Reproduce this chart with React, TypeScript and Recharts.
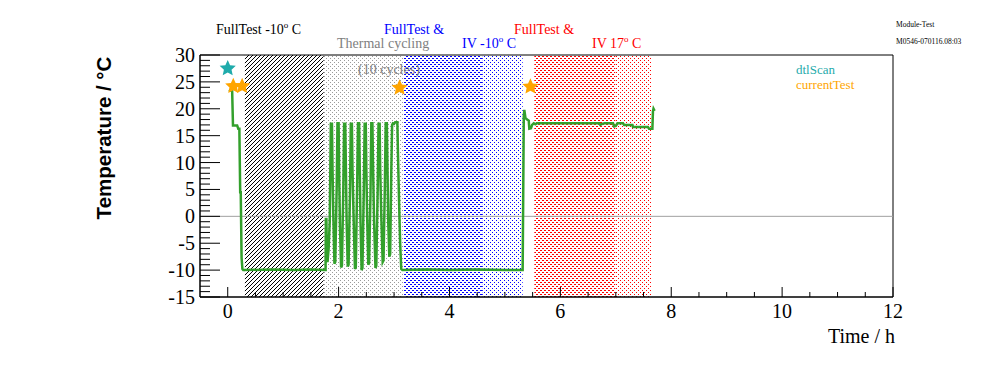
import React from 'react';
import { ComposedChart, Line, Scatter, XAxis, YAxis, ReferenceArea, ReferenceLine } from 'recharts';

// Temperature trace (time in hours, temperature in °C)
const traceHours = [
  0.02, 0.08, 0.095, 0.17, 0.19, 0.21, 0.225, 0.235, 0.25, 0.265, 0.28, 0.8, 1.2, 1.5, 1.74,
  1.765, 1.77, 1.78, 1.79, 1.80, 1.82, 1.84,
  1.86, 1.88, 1.89, 1.905, 1.925, 1.94,
  1.965, 1.98, 2.00, 2.01, 2.025, 2.045, 2.06,
  2.085, 2.10, 2.12, 2.13, 2.145, 2.165, 2.18,
  2.205, 2.22, 2.24, 2.25, 2.27, 2.295, 2.31,
  2.335, 2.35, 2.37, 2.38, 2.395, 2.415, 2.43,
  2.455, 2.47, 2.49, 2.50, 2.515, 2.535, 2.55,
  2.575, 2.59, 2.61, 2.62, 2.64, 2.665, 2.68,
  2.705, 2.72, 2.74, 2.75, 2.77, 2.795, 2.81,
  2.835, 2.85, 2.87, 2.88, 2.895, 2.915, 2.93,
  2.95, 2.965, 2.98, 3.00, 3.02, 3.06, 3.07, 3.09, 3.11, 3.13, 3.15,
  3.6, 4.0, 4.5, 5.0, 5.32, 5.33, 5.34, 5.35, 5.37, 5.40, 5.43, 5.44, 5.47, 5.49, 5.52, 5.55, 5.58,
  6.0, 6.5, 6.7, 6.72, 6.75, 6.8, 6.95, 6.97, 7.0, 7.03, 7.13, 7.15, 7.30, 7.31, 7.58, 7.60, 7.66,
  7.67, 7.68, 7.70,
];
const traceTemps = [
  23.5, 23.3, 16.9, 16.9, 16.3, 16.3, 4.5, 4.5, -7.7, -9.8, -10, -9.9, -10, -9.9, -10,
  -10, -0.5, -0.5, -7.5, -8.5, -6, -1,
  17.2, 17.2, 9, 0, -8.8, -8.5,
  5, 17.3, 17.3, 8, -2, -9.5, -9.2,
  5, 17.2, 17.2, 10, -1, -9.3, -9,
  4, 17.2, 17.2, 9, 0, -9.8, -9.5,
  6, 17.3, 17.3, 10, -1, -10, -9.6,
  5, 17.2, 17.2, 9, 0, -9, -8.7,
  4, 17.3, 17.3, 10, -1, -9.6, -9.2,
  5, 17.2, 17.2, 9, 0, -8.5, -8.2,
  6, 17.3, 17.3, 10, -1, -7.5, -7,
  8, 17, 17.3, 17.2, 17.5, 17.5, 12, 3, -5, -9.8, -10,
  -9.9, -10, -9.9, -10, -10, 4, 18.5, 19.8, 18.3, 18, 17.8, 16.3, 16.4, 17, 17.3, 17.1, 17.3,
  17.3, 17.3, 17.3, 17, 17.2, 17.3, 17.3, 16.7, 16.8, 17.3, 17.3, 17, 17, 16.6, 16.6, 16.3, 16.3,
  19.5, 20, 19.6,
];

// Markers
const dtlScanHours = [0.0];
const dtlScanTemps = [27.5];
const currentTestHours = [0.1, 0.26, 3.1, 5.46];
const currentTestTemps = [24.2, 24.2, 23.9, 24.1];

// Test phases (shaded bands)
const phaseStarts = [0.31, 1.73, 3.18, 4.59, 5.53, 6.99];
const phaseEnds = [1.73, 3.17, 4.59, 5.32, 6.99, 7.64];
const phasePatterns = ['hatchBlack', 'dotsGrey', 'hatchBlue', 'dotsBlue', 'hatchRed', 'dotsRed'];

// Axis ticks
const xMajorTicks = [0, 2, 4, 6, 8, 10, 12];
const xAllTicks = [0, 0.5, 1, 1.5, 2, 2.5, 3, 3.5, 4, 4.5, 5, 5.5, 6, 6.5, 7, 7.5, 8, 8.5, 9, 9.5, 10, 10.5, 11, 11.5, 12];
const yMajorTicks = [-15, -10, -5, 0, 5, 10, 15, 20, 25, 30];
const yAllTicks = [-15, -14, -13, -12, -11, -10, -9, -8, -7, -6, -5, -4, -3, -2, -1, 0, 1, 2, 3, 4, 5, 6, 7, 8, 9, 10, 11, 12, 13, 14, 15, 16, 17, 18, 19, 20, 21, 22, 23, 24, 25, 26, 27, 28, 29, 30];

const traceData = traceHours.map((h, i) => ({ h, T: traceTemps[i] }));
const dtlData = dtlScanHours.map((h, i) => ({ h, T: dtlScanTemps[i] }));
const currentData = currentTestHours.map((h, i) => ({ h, T: currentTestTemps[i] }));

const SERIF = '"Liberation Serif", "Times New Roman", serif';
const SANS = '"Liberation Sans", Arial, sans-serif';

const XTick = (props: any) => {
  const { x, y, payload } = props;
  const v = payload.value;
  const major = xMajorTicks.includes(v);
  return (
    <g>
      <line x1={x} x2={x} y1={y} y2={y - (major ? 10 : 5)} stroke="#000" strokeWidth={1} />
      {major && (
        <text x={x} y={y + 21} textAnchor="middle" fontFamily={SERIF} fontSize={20} fill="#000">
          {v}
        </text>
      )}
    </g>
  );
};

const YTick = (props: any) => {
  const { x, y, payload } = props;
  const v = payload.value;
  const major = yMajorTicks.includes(v);
  return (
    <g>
      <line x1={x} x2={x + (major ? 20 : 10)} y1={y} y2={y} stroke="#000" strokeWidth={1} />
      {major && (
        <text x={x - 5} y={y + 7} textAnchor="end" fontFamily={SERIF} fontSize={20} fill="#000">
          {v}
        </text>
      )}
    </g>
  );
};

const starPoints = (cx: number, cy: number, R: number, r: number) => {
  const pts: string[] = [];
  for (let i = 0; i < 10; i++) {
    const ang = -Math.PI / 2 + (i * Math.PI) / 5;
    const rad = i % 2 === 0 ? R : r;
    pts.push(`${cx + rad * Math.cos(ang)},${cy + rad * Math.sin(ang)}`);
  }
  return pts.join(' ');
};

const makeStar = (color: string) => (props: any) => {
  const { cx, cy } = props;
  if (cx == null || cy == null) return <g />;
  return <polygon points={starPoints(cx, cy, 8.5, 4)} fill={color} />;
};

const Deg = ({ children }: { children: React.ReactNode }) => (
  <>
    <tspan dy={-6} fontSize={9}>o</tspan>
    <tspan dy={6}>{children}</tspan>
  </>
);

const pixelHatch = (id: string, color: string) => (
  <pattern id={id} width="4" height="4" patternUnits="userSpaceOnUse">
    <rect x="3" y="0" width="1" height="1" fill={color} />
    <rect x="2" y="1" width="1" height="1" fill={color} />
    <rect x="1" y="2" width="1" height="1" fill={color} />
    <rect x="0" y="3" width="1" height="1" fill={color} />
  </pattern>
);
const dashHatch = (id: string, color: string) => (
  <pattern id={id} width="4" height="4" patternUnits="userSpaceOnUse">
    <rect x="2" y="0" width="2" height="1" fill={color} />
    <rect x="0" y="2" width="2" height="1" fill={color} />
  </pattern>
);
const dots = (id: string, color: string) => (
  <pattern id={id} width="4" height="4" patternUnits="userSpaceOnUse">
    <rect x="0" y="0" width="1" height="1" fill={color} />
    <rect x="2" y="2" width="1" height="1" fill={color} />
  </pattern>
);

export default function App() {
  return (
    <div style={{ position: 'absolute', left: 0, top: 0, width: 996, height: 372, background: '#fff' }}>
      <svg width={0} height={0} style={{ position: 'absolute' }}>
        <defs>
          {pixelHatch('hatchBlack', '#000000')}
          {dots('dotsGrey', '#9a9a9a')}
          {dashHatch('hatchBlue', '#0000ff')}
          {dots('dotsBlue', '#0000ff')}
          {dashHatch('hatchRed', '#ff0000')}
          {dots('dotsRed', '#ff0000')}
        </defs>
      </svg>
      <ComposedChart
        width={996}
        height={372}
        margin={{ top: 55, right: 103, bottom: 45, left: 140 }}
      >
        <XAxis
          type="number"
          dataKey="h"
          domain={[-0.5, 12]}
          allowDataOverflow
          ticks={xAllTicks}
          interval={0}
          tick={<XTick />}
          tickLine={false}
          tickSize={0}
          tickMargin={0}
          height={30}
          axisLine={{ stroke: '#000' }}
        />
        <YAxis
          type="number"
          dataKey="T"
          domain={[-15, 30]}
          allowDataOverflow
          ticks={yAllTicks}
          interval={0}
          tick={<YTick />}
          tickLine={false}
          tickSize={0}
          tickMargin={0}
          width={60}
          axisLine={{ stroke: '#000' }}
        />
        {phaseStarts.map((s, i) => (
          <ReferenceArea
            key={i}
            x1={s}
            x2={phaseEnds[i]}
            y1={-15}
            y2={30}
            fill={`url(#${phasePatterns[i]})`}
            fillOpacity={1}
            stroke="none"
            ifOverflow="visible"
          />
        ))}
        <ReferenceLine y={0} stroke="#a0a0a0" strokeWidth={1} ifOverflow="visible" />
        <Line
          data={traceData}
          dataKey="T"
          type="linear"
          stroke="#33a02c"
          strokeWidth={2.5}
          dot={false}
          activeDot={false}
          isAnimationActive={false}
        />
        <Scatter data={dtlData} dataKey="T" shape={makeStar('#1fabab')} isAnimationActive={false} />
        <Scatter data={currentData} dataKey="T" shape={makeStar('#ffa500')} isAnimationActive={false} />
        <ReferenceArea x1={-0.5} x2={12} y1={-15} y2={30} fill="none" stroke="#000" strokeWidth={1} ifOverflow="visible" />
      </ComposedChart>
      <svg width={996} height={372} style={{ position: 'absolute', left: 0, top: 0, pointerEvents: 'none' }}>
        <g fontFamily={SERIF} fontSize={14}>
          <text x={216} y={34} fill="#000">FullTest -10<Deg> C</Deg></text>
          <text x={337} y={48} fill="#808080">Thermal cycling</text>
          <text x={358} y={74} fill="#808080">(10 cycles)</text>
          <text x={384} y={34} fill="#0000ff">FullTest &amp;</text>
          <text x={462} y={48} fill="#0000ff">IV -10<Deg> C</Deg></text>
          <text x={514} y={34} fill="#ff0000">FullTest &amp;</text>
          <text x={592} y={48} fill="#ff0000">IV 17<Deg> C</Deg></text>
        </g>
        <g fontFamily={SERIF} fontSize={13}>
          <text x={796} y={74} fill="#1fabab">dtlScan</text>
          <text x={796} y={89} fill="#ffa500">currentTest</text>
        </g>
        <g fontFamily={SERIF} fontSize={7.5}>
          <text x={896} y={27} fill="#000">Module-Test</text>
          <text x={896} y={44} fill="#000">M0546-070116.08:03</text>
        </g>
        <text x={895} y={343} textAnchor="end" fontFamily={SERIF} fontSize={20} fill="#000">Time / h</text>
        <text
          transform="translate(111,138) rotate(-90)"
          textAnchor="middle"
          fontFamily={SANS}
          fontWeight="bold"
          fontSize={20.5}
          fill="#000"
        >
          Temperature / °C
        </text>
      </svg>
    </div>
  );
}
